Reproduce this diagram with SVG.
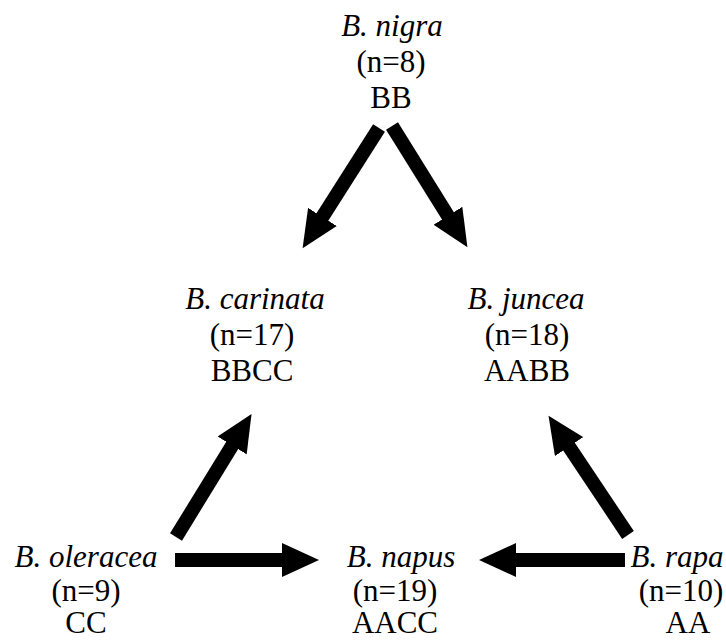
<svg xmlns="http://www.w3.org/2000/svg" width="726" height="641" viewBox="0 0 726 641">
<style>
text{font-family:"Liberation Serif","Times New Roman",serif;font-size:31px;fill:#000;text-anchor:middle}
.sp{font-style:italic}
.ar{stroke:#000;stroke-width:14;fill:none;marker-end:url(#ah)}
</style>
<defs>
<marker id="ah" markerUnits="userSpaceOnUse" markerWidth="40" markerHeight="34" refX="1" refY="17" orient="auto">
<path d="M0,0 L37,17 L0,34 z" fill="#000"/>
</marker>
</defs>
<rect width="726" height="641" fill="#fff"/>
<g id="connectors">
<line class="ar" x1="379" y1="128" x2="321.9" y2="217.8"/>
<line class="ar" x1="392" y1="126" x2="448.4" y2="216.6"/>
<line class="ar" x1="176" y1="537" x2="232.7" y2="444.6"/>
<line class="ar" x1="628" y1="535" x2="568.5" y2="445.8"/>
<line class="ar" x1="175" y1="560" x2="283" y2="560"/>
<line class="ar" x1="625" y1="560" x2="515" y2="560"/>
</g>
<g id="nigra">
<text class="sp" x="392" y="36">B. nigra</text>
<text x="391" y="72">(n=8)</text>
<text x="391" y="108">BB</text>
</g>
<g id="carinata">
<text class="sp" x="255" y="309">B. carinata</text>
<text x="252" y="345">(n=17)</text>
<text x="252" y="381">BBCC</text>
</g>
<g id="juncea">
<text class="sp" x="526" y="309">B. juncea</text>
<text x="527" y="345">(n=18)</text>
<text x="527" y="381">AABB</text>
</g>
<g id="oleracea">
<text class="sp" x="86" y="567">B. oleracea</text>
<text x="86" y="601">(n=9)</text>
<text x="86" y="633">CC</text>
</g>
<g id="napus">
<text class="sp" x="401" y="567">B. napus</text>
<text x="395" y="601">(n=19)</text>
<text x="395" y="633">AACC</text>
</g>
<g id="rapa">
<text class="sp" x="677" y="567">B. rapa</text>
<text x="681" y="601">(n=10)</text>
<text x="688" y="633">AA</text>
</g>
</svg>
